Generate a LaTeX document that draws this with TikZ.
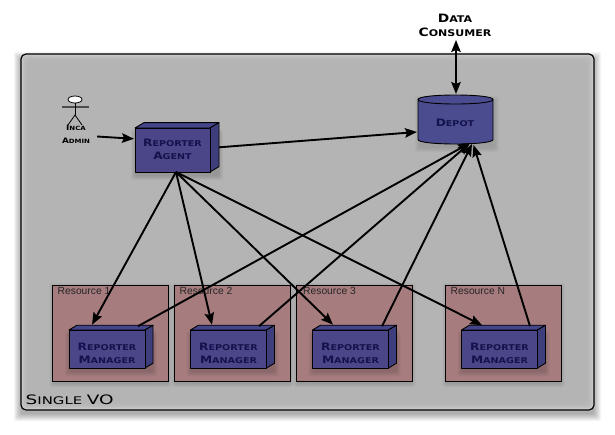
\documentclass[tikz,border=0pt]{standalone}
\usepackage{fontspec}
\setmainfont{Liberation Sans}
\newfontfamily\copfont[FakeStretch=1.2]{DejaVu Sans}
\newfontfamily\copwide[FakeStretch=1.42]{DejaVu Sans}
\usetikzlibrary{arrows.meta,shapes.geometric}
\definecolor{voFill}{HTML}{B4B4B4}
\definecolor{voEdge}{HTML}{CACACA}
\definecolor{resFill}{HTML}{A67C7E}
\definecolor{boxFill}{HTML}{4A4688}
\definecolor{boxSide}{HTML}{45458A}
\definecolor{depotFill}{HTML}{4B4C90}
\definecolor{boxInk}{HTML}{14124C}
\newcommand\SC[4]{{\fontsize{#1}{#1}\selectfont #3}{\fontsize{#2}{#2}\selectfont #4}}
\newcommand\softshadow[6]{% x1 y1 x2 y2 spread opacity
  \foreach \s in {#5,...,0}{\fill[black,opacity=#6,rounded corners=2pt] (#1-\s,#2-\s) rectangle (#3+\s,#4+\s);}}
\newcommand\boxthree[8]{% name x y w h d text label-dy
  \softshadow{#2}{#3+5}{#2+#4+#6}{#3+#5+4}{4}{0.03}
  \filldraw[boxface,fill=boxSide] (#2,#3) -- (#2+#6,#3-#6*0.6) -- (#2+#4+#6,#3-#6*0.6) -- (#2+#4,#3) -- cycle;
  \filldraw[boxface,fill=boxSide!90!black] (#2+#4,#3) -- (#2+#4+#6,#3-#6*0.6) -- (#2+#4+#6,#3+#5-#6*0.6) -- (#2+#4,#3+#5) -- cycle;
  \filldraw[boxface,fill=boxFill] (#2,#3) rectangle (#2+#4,#3+#5);
  \node[boxhull,minimum width=#4 pt+#6 pt,minimum height=#5 pt+#6 pt*0.6] (#1) at (#2+#4/2+#6/2,#3+#5/2-#6*0.3) {};
  \node[boxlabel] at (#2+#4/2,#3+#5/2+#8) {#7};}
\newcommand\resource[4]{% name x label-text label-dx
  \softshadow{#2}{286}{#2+116}{384}{3}{0.03}
  \node[resbox] (#1) at (#2+58,333) {};
  \node[reslabel] at (#2+#4,291) {#3};}
\newcommand\RLine{\SC{10.2}{8}{R}{EPORTER}}
\tikzset{
  boxface/.style={draw=black,line width=0.9pt,line join=round},
  boxhull/.style={inner sep=0pt,outer sep=0pt},
  boxlabel/.style={align=center,text=boxInk,font=\copfont\bfseries,inner sep=0pt},
  outerlabel/.style={align=center,text=black,font=\copfont\bfseries,inner sep=0pt},
  resbox/.style={draw=black,line width=1pt,fill=resFill,minimum width=116pt,minimum height=96pt,inner sep=0pt,outer sep=0pt},
  reslabel/.style={anchor=west,text=black!85,font=\fontsize{10.3}{11}\selectfont,inner sep=0pt},
  link/.style={line width=1.9pt,-{Stealth[length=12pt,width=9.5pt,inset=2pt]}},
  biglink/.style={line width=1.9pt,{Stealth[length=12pt,width=9.5pt,inset=2pt]}-{Stealth[length=12pt,width=9.5pt,inset=2pt]}},
}
\begin{document}
\begin{tikzpicture}[x=1pt,y=-1pt]
\useasboundingbox (0,0) rectangle (615,434);
\fill[white] (0,0) rectangle (615,434);
% Single VO frame
\softshadow{21}{59}{594}{414}{7}{0.045}
\node[draw=black,line width=1.2pt,fill=voEdge,rounded corners=5pt,minimum width=573pt,minimum height=356pt,inner sep=0pt,outer sep=0pt] (vo) at (307.5,232) {};
\foreach \s in {1,...,7}{\fill[voFill,opacity=0.33,rounded corners=4pt] (21.6+\s,54.6+\s) rectangle (593.4-\s,409.4-\s);}
\node[outerlabel,anchor=west,font=\copwide] (volabel) at (25.5,400) {\SC{13}{10.5}{S}{INGLE} \SC{13}{10.5}{VO}{}};
% Resources
\resource{r1}{52.5}{Resource 1}{5}
\resource{r2}{174.5}{Resource 2}{5}
\resource{r3}{296.5}{Resource 3}{6.5}
\resource{rn}{445.5}{Resource N}{5}
% Boxes
\boxthree{agent}{135}{128}{75}{44}{9}{\RLine\\[0.5pt]\SC{10.2}{8}{A}{GENT}}{-0.5}
\boxthree{m1}{69}{330}{76}{38}{8}{\RLine\\[0.5pt]\SC{10.2}{8}{M}{ANAGER}}{4.5}
\boxthree{m2}{190.5}{330}{76}{38}{8}{\RLine\\[0.5pt]\SC{10.2}{8}{M}{ANAGER}}{4.5}
\boxthree{m3}{312.5}{330}{76}{38}{8}{\RLine\\[0.5pt]\SC{10.2}{8}{M}{ANAGER}}{4.5}
\boxthree{mn}{461.5}{330}{76}{38}{8}{\RLine\\[0.5pt]\SC{10.2}{8}{M}{ANAGER}}{4.5}
% Depot
\softshadow{419}{100}{495}{148}{4}{0.025}
\filldraw[boxface,fill=depotFill] (418,99.5) -- (418,139.5) .. controls (418,145.5) and (493,145.5) .. (493,139.5) -- (493,99.5) .. controls (493,93.5) and (418,93.5) .. (418,99.5) -- cycle;
\draw[boxface] (418,99.5) .. controls (418,105.5) and (493,105.5) .. (493,99.5);
\node[boxhull,minimum width=75pt,minimum height=49pt] (depot) at (455.5,119.5) {};
\node[boxlabel] at (455,122.5) {\SC{10.2}{8}{D}{EPOT}};
% Actor
\node[draw=black,fill=white,line width=0.8pt,ellipse,minimum width=14pt,minimum height=7pt,inner sep=0pt] (head) at (75,99.5) {};
\coordinate (hip) at (75,115);
\draw[line width=1.1pt,black!70] (62,107) -- (89,107);
\draw[line width=0.8pt] (head.south) -- (hip);
\draw[line width=0.8pt] (68,125) -- (hip) -- (82,125);
\node[outerlabel] (admin) at (76,134) {\SC{7.4}{5.8}{I}{NCA}\\[1.2pt]\SC{7.4}{5.8}{A}{DMIN}};
\node[outerlabel] (consumer) at (455,25.5) {\SC{11.5}{9.2}{D}{ATA}\\[2pt]\SC{11.5}{9.2}{C}{ONSUMER}};
% Connectors
\draw[link] ([xshift=7pt,yshift=-2.5pt]admin.east) -- ([xshift=-1pt,yshift=8.5pt]agent.west);
\draw[link] (agent.east) -- ([yshift=-12.5pt,xshift=-1pt]depot.west);
\draw[biglink] ([yshift=-3pt,xshift=1pt]consumer.south) -- ([xshift=0.5pt,yshift=1pt]depot.north);
\coordinate (agentout) at ([xshift=-1pt]agent.south);
\draw[link] (agentout) -- ([xshift=23pt,yshift=0.5pt]m1.north west);
\draw[link] (agentout) -- ([xshift=21.5pt,yshift=0.5pt]m2.north west);
\draw[link] (agentout) -- ([xshift=20.5pt,yshift=0.5pt]m3.north west);
\draw[link] (agentout) -- ([xshift=20.5pt,yshift=0pt]mn.north west);
\draw[link] ([xshift=69pt,yshift=-1pt]m1.north west) -- ([xshift=14.5pt,yshift=1pt]depot.south);
\draw[link] ([xshift=68.5pt,yshift=-1pt]m2.north west) -- ([xshift=14.5pt,yshift=1pt]depot.south);
\draw[link] ([xshift=69.5pt,yshift=-1pt]m3.north west) -- ([xshift=16.5pt,yshift=0pt]depot.south);
\draw[link] ([xshift=68.5pt,yshift=-1pt]mn.north west) -- ([xshift=18pt,yshift=-1pt]depot.south);
\end{tikzpicture}
\end{document}
